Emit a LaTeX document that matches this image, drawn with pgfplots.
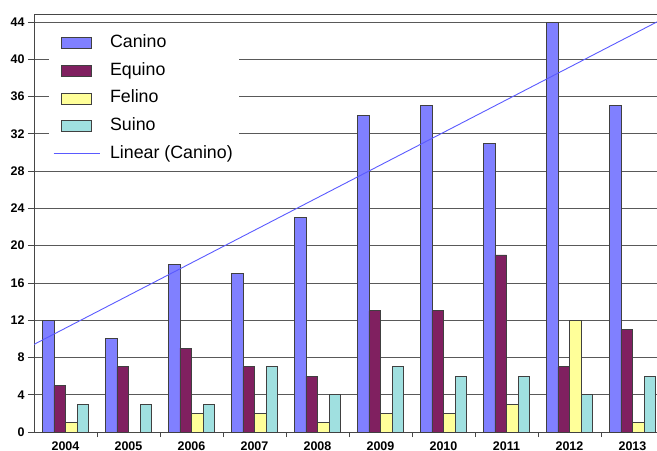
\documentclass[border=0pt]{standalone}
\usepackage{pgfplots}
\pgfplotsset{compat=1.18}
\usepackage{fontspec}
\setmainfont{Liberation Sans}

\definecolor{canino}{RGB}{128,128,255}
\definecolor{equino}{RGB}{128,32,96}
\definecolor{felino}{RGB}{255,255,153}
\definecolor{suino}{RGB}{160,224,224}
\definecolor{outline}{RGB}{64,64,64}
\definecolor{trend}{RGB}{90,90,255}
\definecolor{frame}{RGB}{70,70,70}

\pgfplotsset{
  barleg/.style={legend image code/.code={\draw[##1] (0pt,-5.5pt) rectangle (30pt,5.5pt);}},
  lineleg/.style={legend image code/.code={\draw[##1] (-8pt,0pt) -- (38pt,0pt);}},
}

\begin{document}
\begin{tikzpicture}
\begin{axis}[
  name=ax,
  scale only axis,
  width=623pt, height=418pt,
  xmin=-0.5, xmax=9.389,
  ymin=0, ymax=44.86,
  ybar=0pt, bar width=0.183,
  axis x line*=bottom, axis y line*=left,
  axis line style={-, draw=frame, line width=0.8pt},
  xtick={0,...,9},
  xticklabels={2004,2005,2006,2007,2008,2009,2010,2011,2012,2013},
  major x tick style={draw=none},
  minor xtick={0.5,1.5,...,8.5},
  ytick={0,4,...,44},
  tick align=outside,
  major tick length=6pt, minor tick length=5pt,
  tick style={draw=frame, line width=0.8pt},
  ymajorgrids,
  grid style={draw=frame!90, line width=0.8pt},
  ticklabel style={font=\fontsize{12.5}{13}\selectfont\bfseries},
  /pgf/number format/assume math mode=true,
  legend cell align=left,
  legend style={
    at={(0.024,0.964)}, anchor=north west,
    draw=none, fill=white,
    font=\fontsize{17.8}{20}\selectfont,
    row sep=7.6pt, inner xsep=4pt, inner ysep=4pt,
    nodes={text height=12.5pt, text depth=3.5pt},
    /tikz/every odd column/.append style={column sep=8pt},
  },
]
% Canino
\addplot[fill=canino, draw=outline, line width=0.75pt, barleg] coordinates {
  (0,12) (1,10) (2,18) (3,17) (4,23) (5,34) (6,35) (7,31) (8,44) (9,35)};
% Equino
\addplot[fill=equino, draw=outline, line width=0.75pt, barleg] coordinates {
  (0,5) (1,7) (2,9) (3,7) (4,6) (5,13) (6,13) (7,19) (8,7) (9,11)};
% Felino
\addplot[fill=felino, draw=outline, line width=0.75pt, barleg] coordinates {
  (0,1) (1,0) (2,2) (3,2) (4,1) (5,2) (6,2) (7,3) (8,12) (9,1)};
% Suino
\addplot[fill=suino, draw=outline, line width=0.75pt, barleg] coordinates {
  (0,3) (1,3) (2,3) (3,7) (4,4) (5,7) (6,6) (7,6) (8,4) (9,6)};
% Linear trend of Canino
\addplot[sharp plot, draw=trend, line width=0.9pt, lineleg] coordinates {
  (-0.5,9.4) (9.5,44.4)};
\legend{Canino, Equino, Felino, Suino, Linear (Canino)}
\end{axis}
\draw[frame, line width=0.8pt] (ax.north west) -- (ax.north east);
\pgfresetboundingbox
\path ([shift={(-34pt,-18pt)}]ax.south west) rectangle ([shift={(0pt,14pt)}]ax.north east);
\end{tikzpicture}
\end{document}
